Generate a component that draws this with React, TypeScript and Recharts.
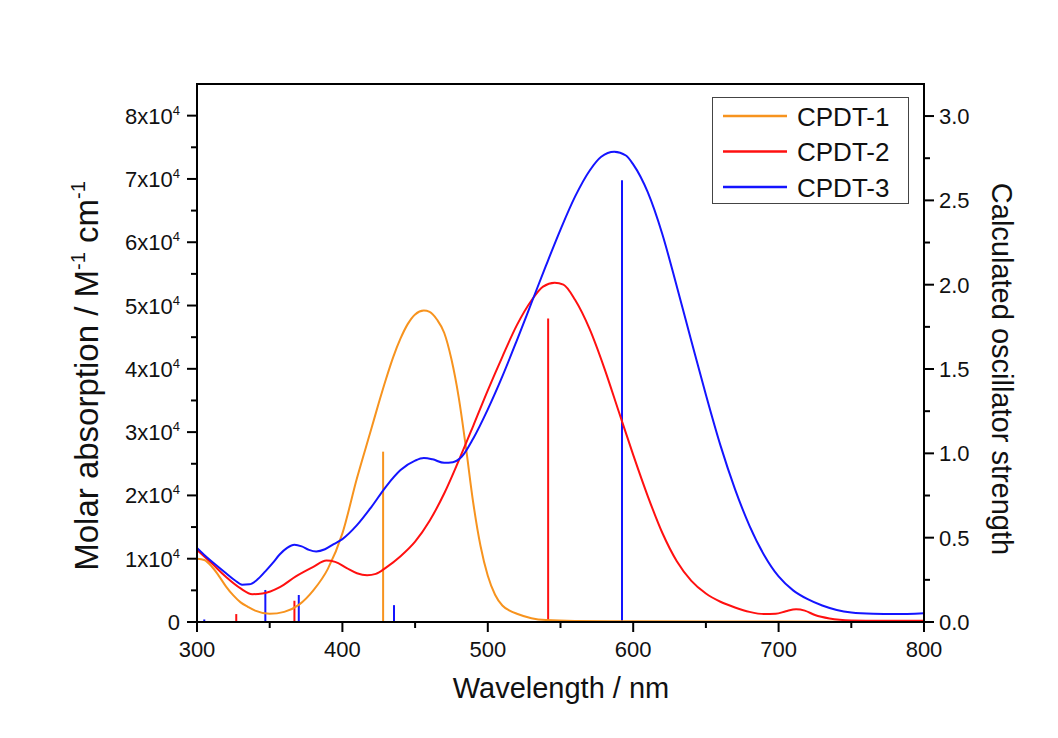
import React from 'react';
import { ComposedChart, Line, XAxis, YAxis, ReferenceLine, ReferenceArea, Legend } from 'recharts';

// ---- Absorption spectra (wavelength in nm, molar absorption in M^-1 cm^-1) ----
const cpdt1Wavelength = [300, 305, 310, 315, 320, 325, 330, 335, 340, 350, 360, 370, 380, 390, 400, 410, 420, 425, 430, 435, 440, 445, 450, 456, 460, 465, 470, 475, 480, 485, 490, 495, 500, 505, 510, 515, 520, 530, 540, 560, 600, 700, 800];
const cpdt1Absorption = [10000, 9800, 8800, 7300, 5600, 4200, 3100, 2400, 1800, 1300, 1600, 2700, 5000, 8400, 14000, 22700, 30600, 34600, 38400, 41900, 44800, 47100, 48600, 49200, 49000, 47800, 45700, 41500, 35500, 27500, 18800, 12000, 7300, 4300, 2600, 1800, 1300, 600, 300, 150, 100, 60, 50];

const cpdt2Wavelength = [300, 310, 320, 330, 338, 345, 357, 368, 380, 389, 395, 403, 410, 417, 423, 430, 440, 450, 460, 470, 480, 490, 500, 510, 520, 530, 538, 546, 552, 560, 570, 580, 590, 600, 610, 620, 630, 640, 650, 660, 670, 680, 690, 698, 705, 712, 718, 725, 735, 750, 770, 800];
const cpdt2Absorption = [11400, 9300, 7100, 5300, 4400, 4500, 5500, 7200, 8700, 9700, 9500, 8500, 7700, 7400, 7600, 8600, 10400, 12700, 16000, 20300, 25500, 31000, 36600, 41900, 46900, 50800, 53000, 53600, 53300, 50900, 46300, 40200, 33300, 26400, 19900, 14100, 9600, 6500, 4500, 3200, 2300, 1600, 1250, 1300, 1700, 2000, 1800, 1100, 550, 250, 200, 200];

const cpdt3Wavelength = [300, 305, 311, 320, 326, 331, 336, 341, 347, 352, 357, 362, 367, 372, 377, 382, 388, 394, 400, 410, 420, 430, 440, 450, 456, 462, 470, 476, 482, 490, 500, 510, 520, 530, 540, 550, 560, 570, 578, 587, 595, 600, 610, 620, 630, 640, 650, 660, 670, 680, 690, 700, 710, 720, 730, 740, 750, 765, 780, 800];
const cpdt3Absorption = [11700, 10600, 9400, 7700, 6600, 5900, 5950, 6600, 8000, 9300, 10700, 11700, 12200, 11950, 11400, 11150, 11500, 12300, 13100, 15300, 18200, 21400, 24000, 25500, 25900, 25700, 25150, 25250, 26100, 29000, 33600, 38800, 44500, 50400, 56300, 62000, 67200, 71300, 73500, 74300, 73700, 72300, 67900, 61300, 53000, 44400, 35900, 27900, 21000, 15200, 10600, 7200, 5000, 3600, 2600, 1900, 1500, 1300, 1260, 1400];

// ---- Calculated oscillator strengths (sticks) ----
const cpdt1StickWavelength = [428];
const cpdt1StickStrength = [1.01];
const cpdt2StickWavelength = [327, 367, 541.5];
const cpdt2StickStrength = [0.047, 0.126, 1.8];
const cpdt3StickWavelength = [305, 347, 370, 435.5, 592.3];
const cpdt3StickStrength = [0.015, 0.19, 0.16, 0.1, 2.62];

// ---- Series names / ticks ----
const seriesNames = ['CPDT-1', 'CPDT-2', 'CPDT-3'];
const xTicks = [300, 350, 400, 450, 500, 550, 600, 650, 700, 750, 800];
const leftTicks = [0, 5000, 10000, 15000, 20000, 25000, 30000, 35000, 40000, 45000, 50000, 55000, 60000, 65000, 70000, 75000, 80000];
const rightTicks = [0, 0.25, 0.5, 0.75, 1.0, 1.25, 1.5, 1.75, 2.0, 2.25, 2.5, 2.75, 3.0];

const COLORS = ['#F7931E', '#FF1010', '#1414FF'];
const FONT = '"Liberation Sans", Arial, sans-serif';
const TEXT = '#111';

const zip = (xs: number[], ys: number[]) => xs.map((x, i) => ({ x, y: ys[i] }));
const curves = [
  zip(cpdt1Wavelength, cpdt1Absorption),
  zip(cpdt2Wavelength, cpdt2Absorption),
  zip(cpdt3Wavelength, cpdt3Absorption),
];
const sticks = [
  zip(cpdt1StickWavelength, cpdt1StickStrength),
  zip(cpdt2StickWavelength, cpdt2StickStrength),
  zip(cpdt3StickWavelength, cpdt3StickStrength),
];

const W = 1042;
const H = 722;

const LeftTick = (props: any) => {
  const { x, y, payload } = props;
  const v = payload.value;
  const major = v % 10000 === 0;
  return (
    <g>
      <line x1={x} x2={x - (major ? 10 : 6)} y1={y} y2={y} stroke="#000" strokeWidth={2} />
      {major && (
        <text x={x - 17} y={y + 8} textAnchor="end" fontSize={22} fill={TEXT} fontFamily={FONT}>
          {v === 0 ? '0' : (
            <>
              {`${v / 10000}x10`}
              <tspan dy={-9} fontSize={13}>4</tspan>
            </>
          )}
        </text>
      )}
    </g>
  );
};

const RightTick = (props: any) => {
  const { x, y, payload } = props;
  const v = payload.value;
  const major = Math.abs(v * 2 - Math.round(v * 2)) < 1e-6;
  return (
    <g>
      <line x1={x} x2={x + (major ? 10 : 6)} y1={y} y2={y} stroke="#000" strokeWidth={2} />
      {major && (
        <text x={x + 15} y={y + 8} textAnchor="start" fontSize={22} fill={TEXT} fontFamily={FONT}>
          {v.toFixed(1)}
        </text>
      )}
    </g>
  );
};

const BottomTick = (props: any) => {
  const { x, y, payload } = props;
  const v = payload.value;
  const major = v % 100 === 0;
  return (
    <g>
      <line x1={x} x2={x} y1={y} y2={y + (major ? 10 : 6)} stroke="#000" strokeWidth={2} />
      {major && (
        <text x={x} y={y + 35} textAnchor="middle" fontSize={22} fill={TEXT} fontFamily={FONT}>
          {v}
        </text>
      )}
    </g>
  );
};

const LegendBox = () => (
  <svg width={198} height={108} style={{ display: 'block' }}>
    <rect x={0.5} y={0.5} width={196} height={106} fill="#fff" fillOpacity={0} stroke="#444" strokeWidth={1} />
    {seriesNames.map((name, i) => {
      const cy = 19 + i * 35.5;
      return (
        <g key={name}>
          <line x1={11} x2={75} y1={cy} y2={cy} stroke={COLORS[i]} strokeWidth={2.5} />
          <text x={85} y={cy + 9.5} fontSize={26} fill={TEXT} fontFamily={FONT}>{name}</text>
        </g>
      );
    })}
  </svg>
);

export default function App() {
  return (
    <div style={{ width: W, height: H, position: 'relative', background: '#fff' }}>
      <ComposedChart width={W} height={H} margin={{ top: 76, right: 26, bottom: 28, left: 69 }}>
        <XAxis
          type="number"
          dataKey="x"
          domain={[300, 800]}
          ticks={xTicks}
          interval={0}
          tickSize={0}
          tickMargin={0}
          tickLine={false}
          axisLine={{ stroke: '#000', strokeWidth: 2 }}
          tick={<BottomTick />}
          height={80}
          allowDataOverflow
          label={{
            content: () => (
              <text x={553} y={690} textAnchor="middle" fontSize={29} fill={TEXT} fontFamily={FONT}>
                Wavelength / nm
              </text>
            ),
          }}
        />
        <YAxis
          yAxisId="left"
          type="number"
          domain={[0, 85000]}
          ticks={leftTicks}
          interval={0}
          tickSize={0}
          tickMargin={0}
          tickLine={false}
          axisLine={{ stroke: '#000', strokeWidth: 2 }}
          tick={<LeftTick />}
          width={120}
          allowDataOverflow
          label={{
            content: () => (
              <text
                x={90}
                y={368}
                transform="rotate(-90, 90, 368)"
                textAnchor="middle"
                fontSize={33}
                fill={TEXT}
                fontFamily={FONT}
              >
                Molar absorption / M<tspan dy={-13} fontSize={20}>-1</tspan>
                <tspan dy={13}> cm</tspan>
                <tspan dy={-13} fontSize={20}>-1</tspan>
              </text>
            ),
          }}
        />
        <YAxis
          yAxisId="right"
          orientation="right"
          type="number"
          domain={[0, 3.19]}
          ticks={rightTicks}
          interval={0}
          tickSize={0}
          tickMargin={0}
          tickLine={false}
          axisLine={{ stroke: '#000', strokeWidth: 2 }}
          tick={<RightTick />}
          width={100}
          allowDataOverflow
          label={{
            content: () => (
              <text
                x={984}
                y={361}
                transform="rotate(90, 984, 361)"
                textAnchor="middle"
                fontSize={29}
                fill={TEXT}
                fontFamily={FONT}
              >
                Calculated oscillator strength
              </text>
            ),
          }}
        />
        <ReferenceArea
          yAxisId="left"
          x1={300}
          x2={800}
          y1={0}
          y2={85000}
          fill="none"
          fillOpacity={0}
          stroke="#000"
          strokeWidth={2}
        />
        {sticks.map((series, si) =>
          series.map((p, i) => (
            <ReferenceLine
              key={`s${si}-${i}`}
              yAxisId="right"
              segment={[{ x: p.x, y: 0 }, { x: p.x, y: p.y }]}
              stroke={COLORS[si]}
              strokeWidth={2}
            />
          ))
        )}
        {curves.map((data, i) => (
          <Line
            key={seriesNames[i]}
            yAxisId="left"
            data={data}
            dataKey="y"
            name={seriesNames[i]}
            type="monotone"
            stroke={COLORS[i]}
            strokeWidth={2}
            dot={false}
            activeDot={false}
            isAnimationActive={false}
          />
        ))}
        <Legend
          layout="horizontal"
          align="center"
          verticalAlign="middle"
          content={() => <LegendBox />}
          wrapperStyle={{ position: 'absolute', left: 704, top: 89, width: 198, height: 108 }}
        />
      </ComposedChart>
    </div>
  );
}
